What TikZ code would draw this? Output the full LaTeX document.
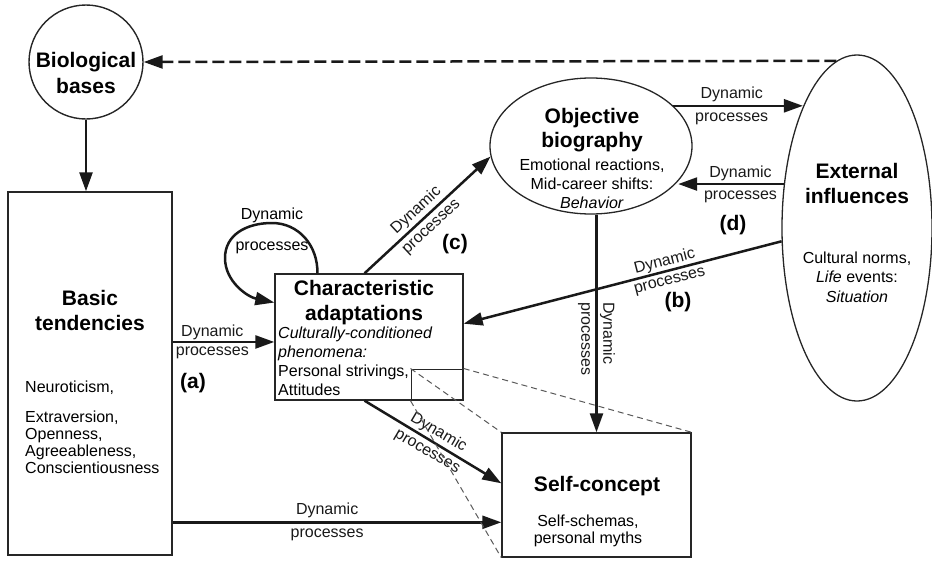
\documentclass[tikz,border=0pt]{standalone}
\usepackage{fontspec}
\setmainfont{Liberation Sans}
\usetikzlibrary{arrows.meta,shapes.geometric}

\tikzset{
  box/.style={draw=black!85, line width=1.4pt, inner sep=0pt},
  oval/.style={draw=black!85, line width=1.3pt, ellipse, inner sep=0pt},
  ttl/.style={font=\fontsize{21}{25}\selectfont\bfseries, align=center, inner sep=0pt, anchor=north},
  txt/.style={font=\fontsize{16}{19}\selectfont, inner sep=0pt},
  lbl/.style={font=\fontsize{16}{19}\selectfont, align=center, inner sep=0pt},
  tag/.style={font=\fontsize{21}{25}\selectfont\bfseries, inner sep=0pt},
  arr/.style={line width=2.5pt, black!90, -{Triangle[length=19pt,width=13pt]}},
  dasharr/.style={arr, dash pattern=on 12pt off 5pt},
  zoomline/.style={black!65, line width=1pt, dash pattern=on 6pt off 4pt},
}

\begin{document}
\begin{tikzpicture}[x=1pt,y=1pt,yscale=-1]
\useasboundingbox (0,0) rectangle (932,560);

% shapes
\node[box, circle, minimum size=114pt] (bio) at (86,62) {};
\node[box, minimum width=164pt, minimum height=363pt] (basic) at (90,373.5) {};
\node[box, minimum width=188pt, minimum height=126pt] (ch) at (369,337) {};
\node[box, minimum width=189pt, minimum height=124pt] (sc) at (596.5,495) {};
\node[oval, minimum width=202pt, minimum height=136pt] (obj) at (591,146) {};
\node[oval, minimum width=150pt, minimum height=346pt] (ext) at (857,228) {};
\node[draw=black!85, line width=1.2pt, minimum width=52pt, minimum height=31pt, inner sep=0pt, anchor=south east] (zoom) at (ch.south east) {};

% texts
\node[ttl, font=\fontsize{21}{26}\selectfont\bfseries] (biot) at (86,52) {Biological\\bases};
\node[ttl] (basict) at (90,290) {Basic\\tendencies};
\node[txt, align=left, anchor=north west, font=\fontsize{16}{17}\selectfont] (basicb) at (25,380.3)
  {Neuroticism,\\[13pt]Extraversion,\\Openness,\\Agreeableness,\\Conscientiousness};
\node[ttl] (cht) at (364,280) {Characteristic\\adaptations};
\node[txt, align=left, anchor=north west] (chb) at (278,326.3)
  {\textit{Culturally-conditioned}\\\textit{phenomena:}\\Personal strivings,\\Attitudes};
\node[ttl, font=\fontsize{21}{24}\selectfont\bfseries] (objt) at (592,108) {Objective\\biography};
\node[txt, align=center, anchor=north] (objb) at (592,158.3)
  {Emotional reactions,\\Mid-career shifts:\\\textit{Behavior}};
\node[ttl] (extt) at (857,163) {External\\influences};
\node[txt, align=center, anchor=north, font=\fontsize{16}{19.5}\selectfont] (extb) at (857,251.3)
  {Cultural norms,\\\textit{Life} events:\\\textit{Situation}};
\node[ttl] (sct) at (597,476) {Self-concept};
\node[txt, align=center, anchor=north, font=\fontsize{16}{17}\selectfont] (scb) at (588,514.3)
  {Self-schemas,\\personal myths};

% connectors
\draw[arr] (bio.south) -- (bio.south |- basic.north);
\draw[dasharr] (ext.97) -- (bio.east);
\draw[arr] (obj.26) -- (obj.26 -| ext.114)
  node[lbl, pos=0.45] {Dynamic\\[4pt]processes};
\draw[arr] (ext.149) -- (ext.149 -| obj.-22)
  node[lbl, pos=0.41] {Dynamic\\[3pt]processes};
\draw[arr] (ext.190) -- (ch.8)
  node[lbl, pos=0.36, rotate=14.5] {Dynamic\\processes};
\draw[arr] (ch.94) -- (obj.186)
  node[lbl, pos=0.47, rotate=43] {Dynamic\\[3pt]processes};
\draw[arr] (ch.-94) -- (sc.173)
  node[lbl, pos=0.5, rotate=-30.5] {Dynamic\\[3pt]processes};
\draw[arr] (basic.east |- ch.183) -- (ch.183)
  node[lbl, pos=0.39] {Dynamic\\processes};
\draw[arr] (basic.east |- sc.196) -- (sc.196)
  node[lbl, pos=0.47] {Dynamic\\[4pt]processes};
\draw[arr] (obj.south -| sc.north) -- (sc.north)
  node[lbl, pos=0.57, rotate=-90, align=left] {Dynamic\\[3pt]processes};
\draw[arr] (ch.129) .. controls (318,246) and (299,223) .. (272,223)
  .. controls (246,223) and (225,235) .. (225,258)
  .. controls (225,282) and (248,297) .. (ch.160);
\node[lbl, anchor=north] (loopl) at (272,207.3) {Dynamic\\[12pt]processes};

% zoom lines
\draw[zoomline] (zoom.north west) -- (sc.north west);
\draw[zoomline] (zoom.north east) -- (sc.north east);
\draw[zoomline] (zoom.south west) -- (sc.south west);

% tags
\node[tag] (ta) at (193,383) {(a)};
\node[tag] (tb) at (678,302) {(b)};
\node[tag] (tc) at (455,244) {(c)};
\node[tag] (td) at (733,225) {(d)};
\end{tikzpicture}
\end{document}
